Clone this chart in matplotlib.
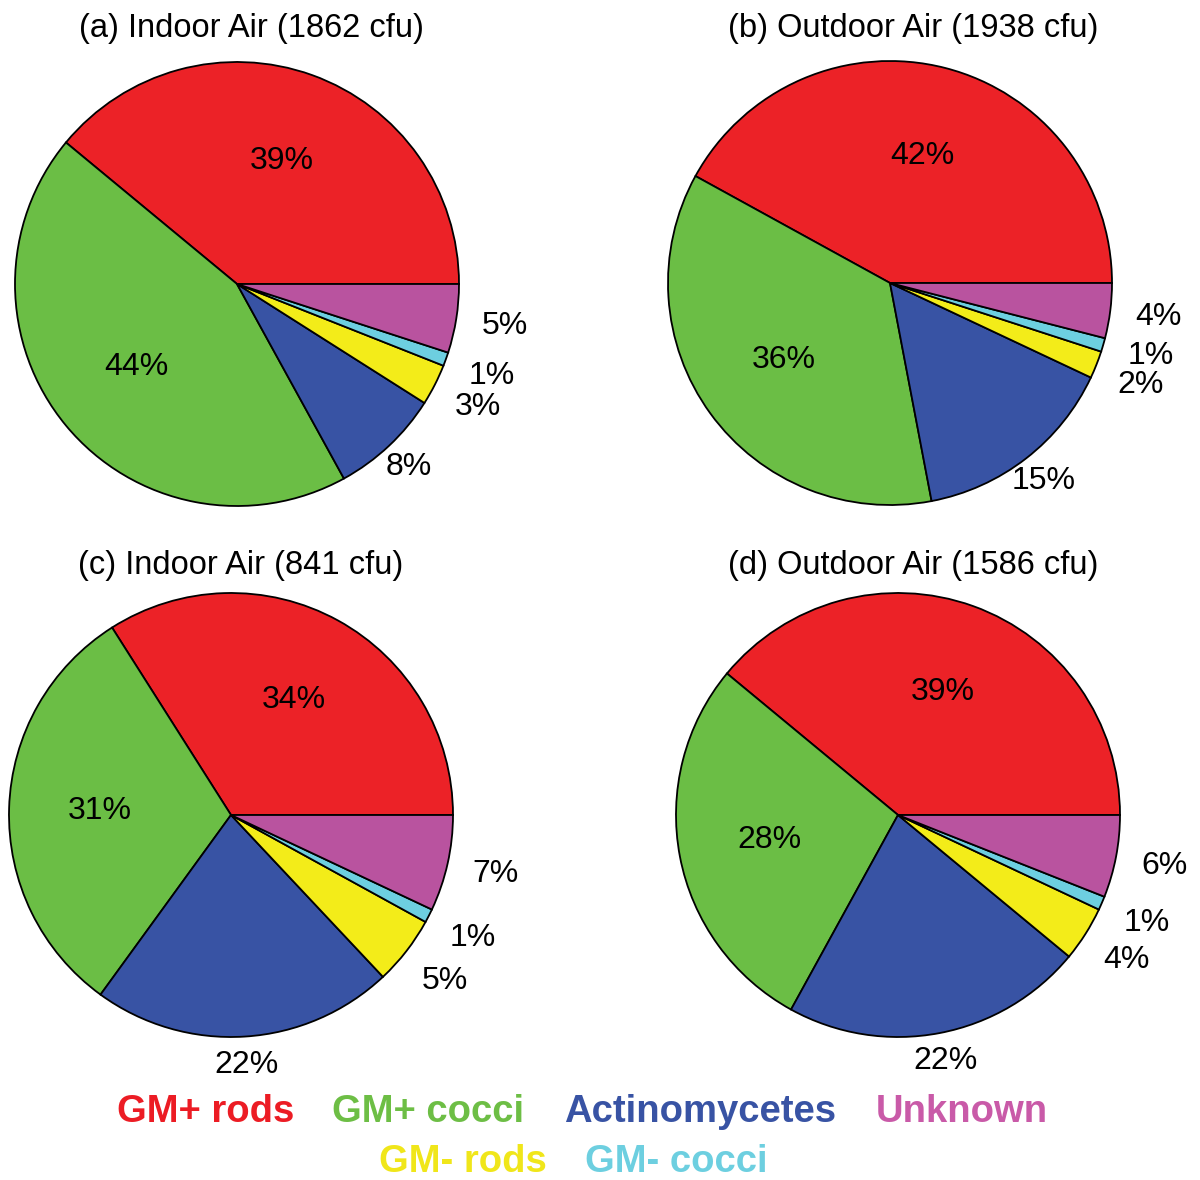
import numpy as np
import matplotlib
matplotlib.use("Agg")
import matplotlib.pyplot as plt

plt.rcParams['font.family'] = ['Liberation Sans', 'DejaVu Sans']

# slice order: counter-clockwise from 3 o'clock
groups = ['GM+ rods', 'GM+ cocci', 'Actinomycetes', 'GM- rods', 'GM- cocci', 'Unknown']
colors = ['#ec2227', '#6bbe45', '#3853a4', '#f3ec19', '#6dcfe0', '#b9539f']
text_colors = ['#ec1c24', '#6dbe45', '#3853a4', '#f0e61a', '#6dcfe0', '#c95aa8']

titles = ['(a) Indoor Air (1862 cfu)', '(b) Outdoor Air (1938 cfu)',
          '(c) Indoor Air (841 cfu)', '(d) Outdoor Air (1586 cfu)']
indoor_a = [39, 44, 8, 3, 1, 5]
outdoor_b = [42, 36, 15, 2, 1, 4]
indoor_c = [34, 31, 22, 5, 1, 7]
outdoor_d = [39, 28, 22, 4, 1, 6]
panels = [indoor_a, outdoor_b, indoor_c, outdoor_d]

W, H = 1200, 1180
fig = plt.figure(figsize=(W / 100, H / 100), dpi=100)

# pie centres and title centres in pixels (from top-left)
centres = [(237, 284), (890, 283), (231, 815), (898, 815)]
title_xy = [(251, 28), (913, 28), (241, 565), (913, 565)]
R = 222      # pie radius in px
box = 640    # axes size in px
lim = box / (2 * R)
min_gap = 6.5  # degrees between neighbouring outer labels


def label_angles(wedges):
    ang = [(w.theta1 + w.theta2) / 2 for w in wedges]
    # push apart the small outer labels that sit too close together
    for i in range(3, len(ang)):
        gap = ang[i] - ang[i - 1]
        if gap < min_gap:
            shift = (min_gap - gap) / 2
            ang[i - 1] -= shift
            ang[i] += shift
    return ang


for vals, title, (cx, cy), (tx, ty) in zip(panels, titles, centres, title_xy):
    ax = fig.add_axes([(cx - box / 2) / W, 1 - (cy + box / 2) / H, box / W, box / H])
    wedges, _ = ax.pie(vals, colors=colors, startangle=0, counterclock=True,
                       wedgeprops=dict(edgecolor='black', linewidth=1.3))
    ax.set_xlim(-lim, lim)
    ax.set_ylim(-lim, lim)
    ax.set_aspect('equal')
    ax.axis('off')
    for i, (a, v) in enumerate(zip(label_angles(wedges), vals)):
        mid = np.deg2rad(a)
        if i < 2:
            d = 0.59
        elif v >= 8:
            d = 1.13
        else:
            d = 1.22
        ax.text(d * np.cos(mid), d * np.sin(mid), f'{v}%', fontsize=23,
                ha='center', va='center')
    fig.text(tx / W, 1 - ty / H, title, fontsize=23.5, ha='center', va='center')

# coloured legend words
row1 = [(0, 206), (1, 428), (2, 700), (5, 962)]
row2 = [(3, 463), (4, 676)]
for idx, x in row1:
    fig.text(x / W, 1 - 1112 / H, groups[idx], color=text_colors[idx],
             fontsize=27.5, fontweight='bold', ha='center', va='center')
for idx, x in row2:
    fig.text(x / W, 1 - 1162 / H, groups[idx], color=text_colors[idx],
             fontsize=27.5, fontweight='bold', ha='center', va='center')

fig.savefig('out.png', dpi=100)
